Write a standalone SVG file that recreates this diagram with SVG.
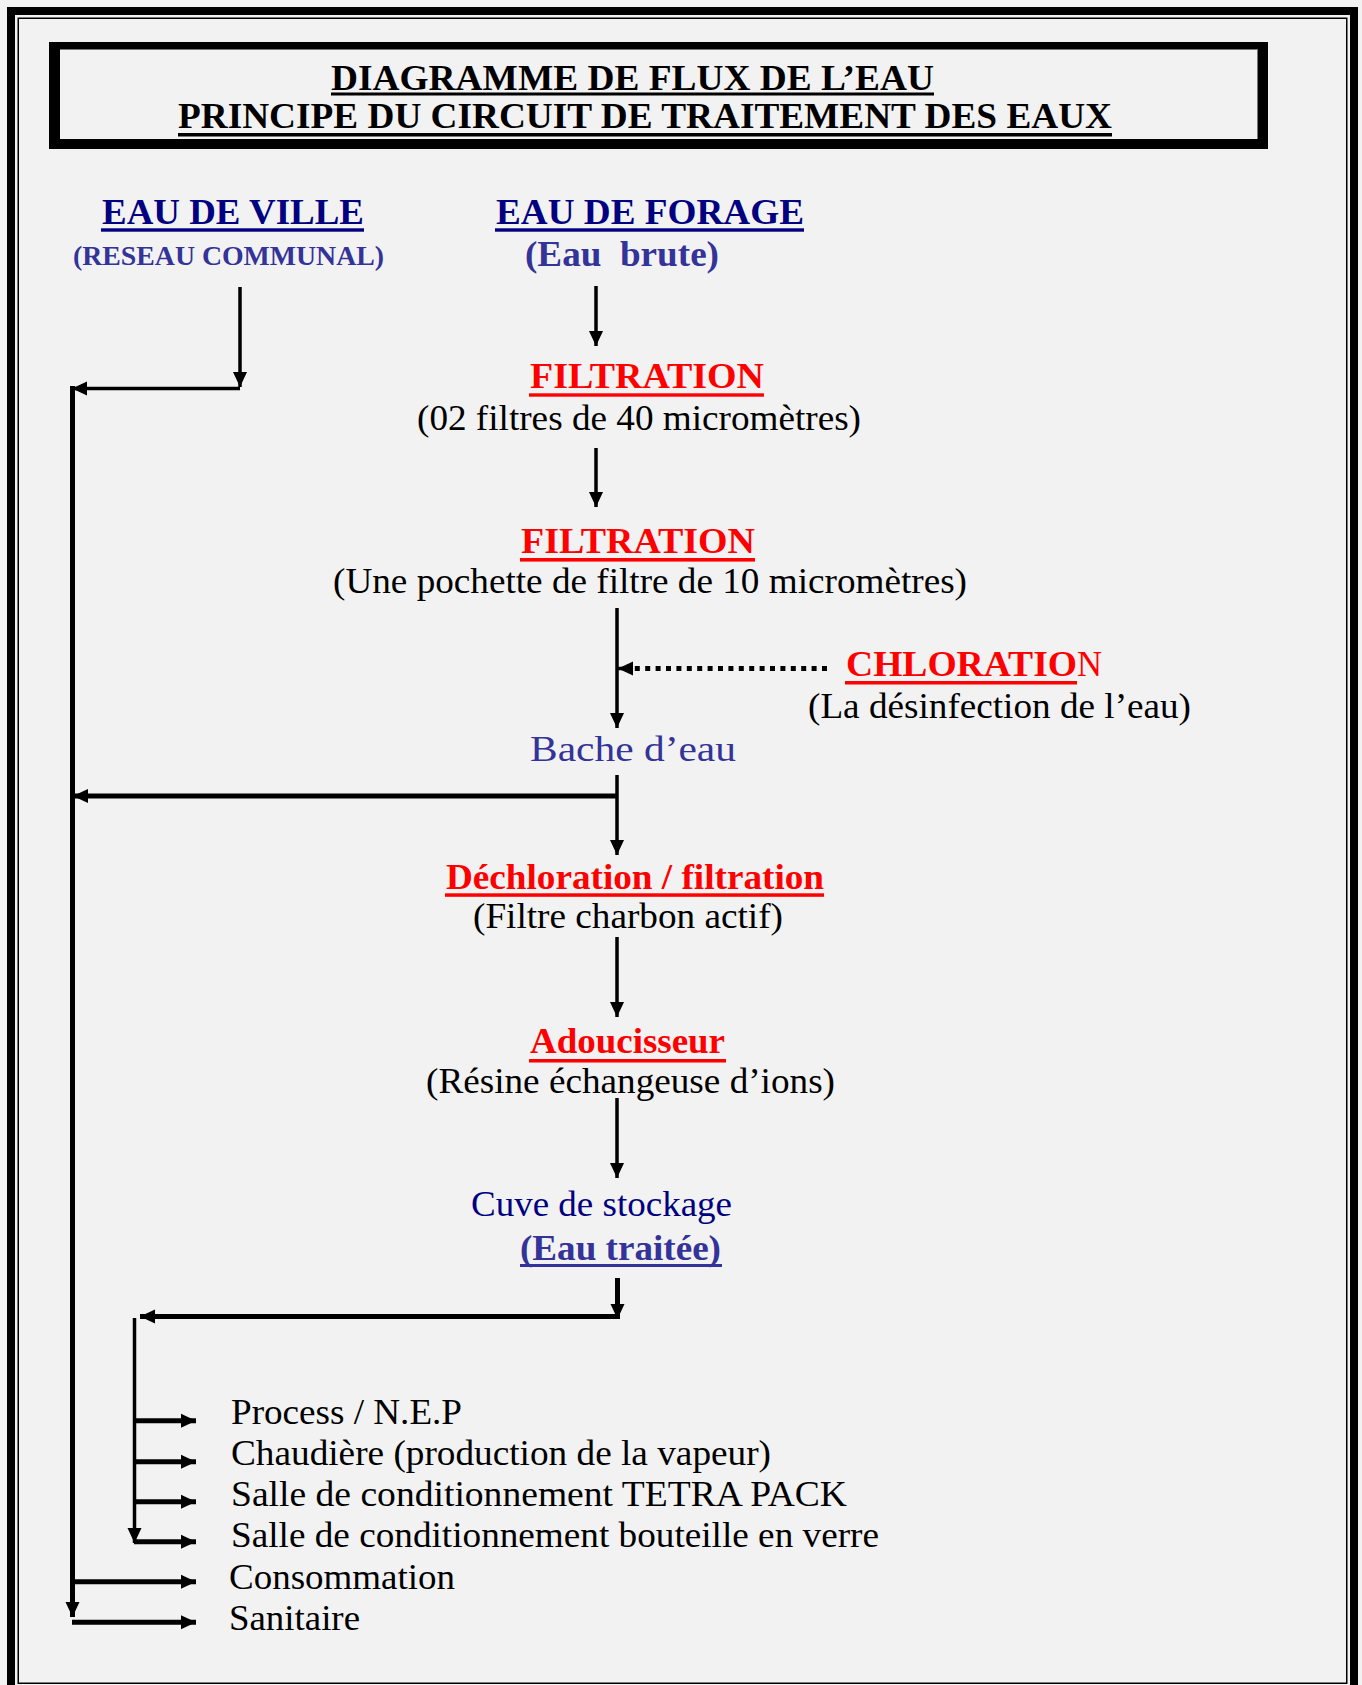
<svg xmlns="http://www.w3.org/2000/svg" width="1362" height="1685" viewBox="0 0 1362 1685">
<style>
text{font-family:"Liberation Serif","Times New Roman",serif;}
.b{font-weight:bold;}
.navy{fill:#000080;}
.blue{fill:#333399;}
.red{fill:#ff0000;}
.blk{fill:#000;}
.r36{font-size:36px;}
.b36{font-size:36px;font-weight:bold;}
.ln{fill:none;stroke:#000;stroke-width:3.5;}
.lw{fill:none;stroke:#000;stroke-width:5;}
.dot{fill:none;stroke:#000;stroke-width:5;stroke-dasharray:5 5.4;}
</style>
<defs>
<marker id="ah" markerUnits="userSpaceOnUse" markerWidth="16" markerHeight="16" refX="15" refY="7" orient="auto" overflow="visible">
<path d="M0,0 L15,7 L0,14 z" fill="#000"/>
</marker>
</defs>
<rect x="0" y="0" width="1362" height="1685" fill="#f2f2f2"/>
<g id="frame">
<rect x="11" y="11" width="1343" height="1700" fill="none" stroke="#000" stroke-width="8"/>
<rect x="18.25" y="18.25" width="1328.5" height="1665" fill="none" stroke="#000" stroke-width="1.5"/>
</g>
<g id="title">
<rect x="49" y="42" width="1219" height="7" fill="#000"/>
<rect x="49" y="42" width="11" height="107" fill="#000"/>
<rect x="1258" y="42" width="10" height="107" fill="#000"/>
<rect x="49" y="139" width="1219" height="10" fill="#000"/>
<line x1="60" y1="49.5" x2="1257" y2="49.5" stroke="#777" stroke-width="1"/>
<line x1="1257.5" y1="49" x2="1257.5" y2="139" stroke="#777" stroke-width="1"/>
<text x="331" y="90" class="b36 blk" textLength="603" lengthAdjust="spacingAndGlyphs">DIAGRAMME DE FLUX DE L’EAU</text>
<rect x="331" y="92.5" width="603" height="3" fill="#000"/>
<text x="178" y="128" class="b36 blk" textLength="934" lengthAdjust="spacingAndGlyphs">PRINCIPE DU CIRCUIT DE TRAITEMENT DES EAUX</text>
<rect x="178" y="133" width="934" height="3.5" fill="#000"/>
</g>
<g id="eau-de-ville">
<text x="102" y="224" class="b36 navy" textLength="262" lengthAdjust="spacingAndGlyphs">EAU DE VILLE</text>
<rect x="101" y="228.3" width="263" height="3.4" fill="#000080"/>
<text x="73" y="265" class="b blue" font-size="27" textLength="311" lengthAdjust="spacingAndGlyphs">(RESEAU COMMUNAL)</text>
</g>
<g id="eau-de-forage">
<text x="496" y="224" class="b36 navy" textLength="308" lengthAdjust="spacingAndGlyphs">EAU DE FORAGE</text>
<rect x="495" y="228.3" width="309" height="3.4" fill="#000080"/>
<text x="525" y="266" class="b blue" font-size="35" textLength="194" lengthAdjust="spacingAndGlyphs">(Eau&#160; brute)</text>
</g>
<g id="filtration-1">
<text x="530" y="388" class="b36 red" textLength="234" lengthAdjust="spacingAndGlyphs">FILTRATION</text>
<rect x="529" y="393.3" width="235" height="3.4" fill="#ff0000"/>
<text x="417" y="430" class="r36 blk" textLength="444" lengthAdjust="spacingAndGlyphs">(02 filtres de 40 micromètres)</text>
</g>
<g id="filtration-2">
<text x="521" y="553" class="b36 red" textLength="234" lengthAdjust="spacingAndGlyphs">FILTRATION</text>
<rect x="520" y="558" width="235" height="3.6" fill="#ff0000"/>
<text x="333" y="593" class="r36 blk" textLength="634" lengthAdjust="spacingAndGlyphs">(Une pochette de filtre de 10 micromètres)</text>
</g>
<g id="chloration">
<text x="846" y="676" class="b36 red" textLength="231" lengthAdjust="spacingAndGlyphs">CHLORATIO</text>
<text x="1077" y="676" class="r36 red" textLength="25" lengthAdjust="spacingAndGlyphs">N</text>
<rect x="845" y="681" width="232" height="3.5" fill="#ff0000"/>
<text x="808" y="718" class="r36 blk" textLength="383" lengthAdjust="spacingAndGlyphs">(La désinfection de l’eau)</text>
</g>
<g id="bache">
<text x="530" y="761" class="r36 blue" textLength="206" lengthAdjust="spacingAndGlyphs">Bache d’eau</text>
</g>
<g id="dechloration">
<text x="446" y="889" class="b36 red" textLength="378" lengthAdjust="spacingAndGlyphs">Déchloration / filtration</text>
<rect x="445" y="893.3" width="379" height="3.5" fill="#ff0000"/>
<text x="473" y="928" class="r36 blk" textLength="310" lengthAdjust="spacingAndGlyphs">(Filtre charbon actif)</text>
</g>
<g id="adoucisseur">
<text x="530" y="1053" class="b36 red" textLength="195" lengthAdjust="spacingAndGlyphs">Adoucisseur</text>
<rect x="529" y="1059" width="197" height="3.5" fill="#ff0000"/>
<text x="426" y="1093" class="r36 blk" textLength="409" lengthAdjust="spacingAndGlyphs">(Résine échangeuse d’ions)</text>
</g>
<g id="cuve">
<text x="471" y="1216" class="r36 navy" textLength="261" lengthAdjust="spacingAndGlyphs">Cuve de stockage</text>
<text x="520" y="1260" class="b36 blue" textLength="201" lengthAdjust="spacingAndGlyphs">(Eau traitée)</text>
<rect x="520" y="1264" width="202" height="3" fill="#333399"/>
</g>
<g id="process"><text x="231" y="1424" class="r36 blk" textLength="231" lengthAdjust="spacingAndGlyphs">Process / N.E.P</text></g>
<g id="chaudiere"><text x="231" y="1465" class="r36 blk" textLength="540" lengthAdjust="spacingAndGlyphs">Chaudière (production de la vapeur)</text></g>
<g id="tetra"><text x="231" y="1506" class="r36 blk" textLength="616" lengthAdjust="spacingAndGlyphs">Salle de conditionnement TETRA PACK</text></g>
<g id="bouteille"><text x="231" y="1547" class="r36 blk" textLength="648" lengthAdjust="spacingAndGlyphs">Salle de conditionnement bouteille en verre</text></g>
<g id="consommation"><text x="229" y="1589" class="r36 blk" textLength="226" lengthAdjust="spacingAndGlyphs">Consommation</text></g>
<g id="sanitaire"><text x="229" y="1630" class="r36 blk" textLength="131" lengthAdjust="spacingAndGlyphs">Sanitaire</text></g>
<g id="connectors">
<path class="ln" d="M240,287 V387" marker-end="url(#ah)"/>
<path class="ln" d="M240,388.5 H72" marker-end="url(#ah)"/>
<path class="lw" d="M72.5,386 V1617" marker-end="url(#ah)"/>
<path class="ln" d="M596,286 V346" marker-end="url(#ah)"/>
<path class="ln" d="M596,448 V507" marker-end="url(#ah)"/>
<path class="ln" d="M617,608 V728" marker-end="url(#ah)"/>
<path class="dot" d="M827,668.5 H632"/>
<path class="ln" d="M633,668.5 H618" marker-end="url(#ah)"/>
<path class="lw" d="M617,796 H73" marker-end="url(#ah)"/>
<path class="ln" d="M617,775 V855" marker-end="url(#ah)"/>
<path class="ln" d="M617,937 V1017" marker-end="url(#ah)"/>
<path class="ln" d="M617,1098 V1178" marker-end="url(#ah)"/>
<path class="lw" d="M617.5,1278 V1319" marker-end="url(#ah)"/>
<path class="lw" d="M617.5,1316.5 H140" marker-end="url(#ah)"/>
<path class="ln" d="M134.5,1318 V1543" marker-end="url(#ah)"/>
<path class="lw" d="M134,1420.7 H196" marker-end="url(#ah)"/>
<path class="lw" d="M134,1461.7 H196" marker-end="url(#ah)"/>
<path class="lw" d="M134,1501.7 H196" marker-end="url(#ah)"/>
<path class="lw" d="M134,1541.7 H196" marker-end="url(#ah)"/>
<path class="lw" d="M72,1581.7 H196" marker-end="url(#ah)"/>
<path class="lw" d="M72,1622.3 H196" marker-end="url(#ah)"/>
</g>
</svg>
